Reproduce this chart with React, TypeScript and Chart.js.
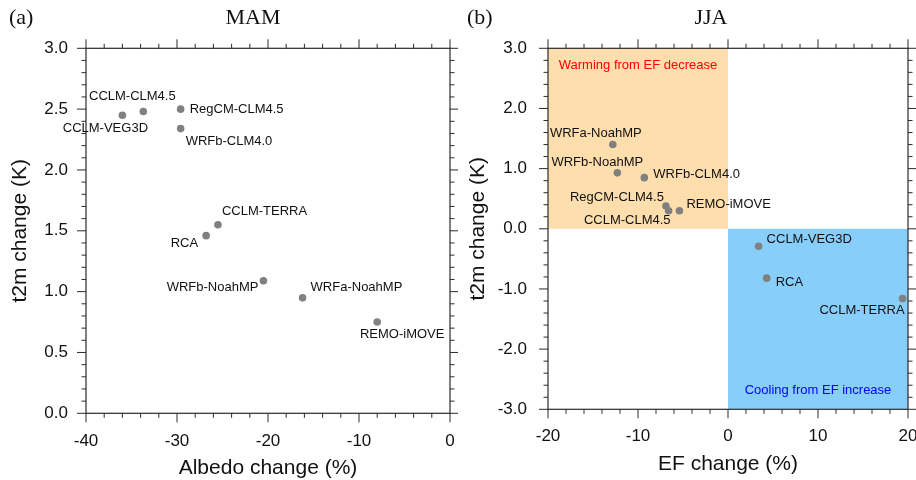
import React, { useEffect, useRef } from "react";
import { Chart, registerables } from "chart.js";

Chart.register(...registerables);

// ---------------- Data ----------------
const mamModels = [
  "CCLM-VEG3D",
  "CCLM-CLM4.5",
  "RegCM-CLM4.5",
  "WRFb-CLM4.0",
  "CCLM-TERRA",
  "RCA",
  "WRFb-NoahMP",
  "WRFa-NoahMP",
  "REMO-iMOVE",
];
const mamAlbedoChange = [-36.0, -33.7, -29.6, -29.6, -25.5, -26.8, -20.5, -16.2, -8.0];
const mamT2mChange = [2.45, 2.48, 2.5, 2.34, 1.55, 1.46, 1.09, 0.95, 0.75];

const jjaModels = [
  "WRFa-NoahMP",
  "WRFb-NoahMP",
  "WRFb-CLM4.0",
  "RegCM-CLM4.5",
  "CCLM-CLM4.5",
  "REMO-iMOVE",
  "CCLM-VEG3D",
  "RCA",
  "CCLM-TERRA",
];
const jjaEFChange = [-12.8, -12.3, -9.3, -6.9, -6.6, -5.4, 3.4, 4.3, 19.4];
const jjaT2mChange = [1.4, 0.93, 0.85, 0.38, 0.3, 0.3, -0.29, -0.82, -1.16];

const mamXTicks = [-40, -30, -20, -10, 0];
const mamYTicks = [0, 0.5, 1.0, 1.5, 2.0, 2.5, 3.0];
const jjaXTicks = [-20, -10, 0, 10, 20];
const jjaYTicks = [-3, -2, -1, 0, 1, 2, 3];

// label placement: [align, dx(px), dy(px)] relative to the point
const mamLabelPlace: [CanvasTextAlign, number, number][] = [
  ["center", -17, 13],
  ["center", -11, -15],
  ["left", 9, 0],
  ["left", 5, 13],
  ["left", 4, -13],
  ["right", -8, 8],
  ["right", -5, 7],
  ["left", 8, -10],
  ["center", 25, 12],
];
const jjaLabelPlace: [CanvasTextAlign, number, number][] = [
  ["center", -17, -11],
  ["center", -20, -10],
  ["left", 9, -3],
  ["right", -2, -9],
  ["right", 2, 10],
  ["left", 7, -6],
  ["left", 8, -7],
  ["left", 9, 4],
  ["right", 2, 12],
];

const SANS = "'Liberation Sans', Arial, Helvetica, sans-serif";
const SERIF = "'Liberation Serif', 'Times New Roman', serif";
const AXIS_COLOR = "#2a2a2a";
const POINT_COLOR = "#808080";

type PanelCfg = {
  letter: string;
  season: string;
  xTitle: string;
  xMin: number;
  xMax: number;
  yMin: number;
  yMax: number;
  xTicks: number[];
  yTicks: number[];
  xMinor: number;
  yMinor: number;
  xMajor: number;
  yMajor: number;
  yDecimals: number;
  models: string[];
  xs: number[];
  ys: number[];
  place: [CanvasTextAlign, number, number][];
  yAxisWidth: number;
  xAxisHeight: number;
  yLabelPad: number;
  xLabelPad: number;
  xTitlePadBottom: number;
  yTitlePad: number;
  regions: boolean;
};

function makePlugin(cfg: PanelCfg) {
  return {
    id: "panelDecor" + cfg.letter,
    beforeDatasetsDraw(chart: any) {
      const { ctx, chartArea } = chart;
      const xs = chart.scales.x;
      const ys = chart.scales.y;
      if (cfg.regions) {
        ctx.save();
        // orange: x in [-20,0], y in [0,3]
        const x0 = xs.getPixelForValue(cfg.xMin);
        const xm = xs.getPixelForValue(0);
        const x1 = xs.getPixelForValue(cfg.xMax);
        const yT = ys.getPixelForValue(cfg.yMax);
        const y0 = ys.getPixelForValue(0);
        const yB = ys.getPixelForValue(cfg.yMin);
        ctx.fillStyle = "rgb(255,222,173)";
        ctx.fillRect(x0, yT, xm - x0, y0 - yT);
        ctx.fillStyle = "rgb(135,206,250)";
        ctx.fillRect(xm, y0, x1 - xm, yB - y0);
        ctx.font = "13px " + SANS;
        ctx.textAlign = "center";
        ctx.textBaseline = "middle";
        ctx.fillStyle = "#ff0000";
        ctx.fillText("Warming from EF decrease", xs.getPixelForValue(-10), yT + 17);
        ctx.fillStyle = "#0000ff";
        ctx.fillText("Cooling from EF increase", xs.getPixelForValue(10), yB - 18.5);
        ctx.restore();
      }
      // frame and ticks
      ctx.save();
      ctx.strokeStyle = AXIS_COLOR;
      ctx.lineWidth = 1.2;
      ctx.strokeRect(chartArea.left, chartArea.top, chartArea.right - chartArea.left, chartArea.bottom - chartArea.top);
      const majLen = 9;
      const minLen = 4.5;
      ctx.lineWidth = 1;
      ctx.beginPath();
      const nx = Math.round((cfg.xMax - cfg.xMin) / cfg.xMinor);
      for (let i = 0; i <= nx; i++) {
        const v = cfg.xMin + i * cfg.xMinor;
        const isMaj = Math.abs(v / cfg.xMajor - Math.round(v / cfg.xMajor)) < 1e-6;
        const len = isMaj ? majLen : minLen;
        const px = xs.getPixelForValue(v);
        ctx.moveTo(px, chartArea.bottom);
        ctx.lineTo(px, chartArea.bottom + len);
        ctx.moveTo(px, chartArea.top);
        ctx.lineTo(px, chartArea.top - len);
      }
      const ny = Math.round((cfg.yMax - cfg.yMin) / cfg.yMinor);
      for (let i = 0; i <= ny; i++) {
        const v = cfg.yMin + i * cfg.yMinor;
        const isMaj = Math.abs(v / cfg.yMajor - Math.round(v / cfg.yMajor)) < 1e-6;
        const len = isMaj ? majLen : minLen;
        const py = ys.getPixelForValue(v);
        ctx.moveTo(chartArea.left, py);
        ctx.lineTo(chartArea.left - len, py);
        ctx.moveTo(chartArea.right, py);
        ctx.lineTo(chartArea.right + len, py);
      }
      ctx.stroke();
      ctx.restore();
    },
    afterDatasetsDraw(chart: any) {
      const { ctx } = chart;
      const meta = chart.getDatasetMeta(0);
      ctx.save();
      ctx.font = "13px " + SANS;
      ctx.fillStyle = "#111";
      ctx.textBaseline = "middle";
      meta.data.forEach((pt: any, i: number) => {
        const [align, dx, dy] = cfg.place[i];
        ctx.textAlign = align;
        ctx.fillText(cfg.models[i], pt.x + dx, pt.y + dy);
      });
      ctx.restore();
    },
    afterDraw(chart: any) {
      const { ctx } = chart;
      ctx.save();
      ctx.fillStyle = "#111";
      ctx.textBaseline = "middle";
      ctx.font = "22px " + SERIF;
      ctx.textAlign = "left";
      ctx.fillText("(" + cfg.letter + ")", 9, 18.5);
      ctx.textAlign = "center";
      ctx.fillText(cfg.season, 253, 18.5);
      ctx.restore();
    },
  };
}

function Panel({ cfg, left }: { cfg: PanelCfg; left: number }) {
  const ref = useRef<HTMLCanvasElement | null>(null);
  useEffect(() => {
    if (!ref.current) return;
    const chart = new Chart(ref.current, {
      type: "scatter",
      data: {
        datasets: [
          {
            data: cfg.xs.map((x, i) => ({ x, y: cfg.ys[i] })),
            backgroundColor: POINT_COLOR,
            borderWidth: 0,
            pointRadius: 3.8,
            pointHoverRadius: 3.8,
          },
        ],
      },
      options: {
        responsive: false,
        animation: false,
        events: [],
        layout: { padding: { top: 48.3, left: 0, right: 8, bottom: 0 } },
        plugins: { legend: { display: false }, tooltip: { enabled: false } },
        scales: {
          x: {
            type: "linear",
            min: cfg.xMin,
            max: cfg.xMax,
            grid: { display: false, drawTicks: false },
            border: { display: false },
            afterBuildTicks: (s: any) => {
              s.ticks = cfg.xTicks.map((v) => ({ value: v }));
            },
            afterFit: (s: any) => {
              s.height = cfg.xAxisHeight;
              s.paddingLeft = 0;
              s.paddingRight = 0;
            },
            ticks: {
              autoSkip: false,
              maxRotation: 0,
              padding: cfg.xLabelPad,
              color: "#111",
              font: { family: SANS, size: 17 },
              callback: (v: any) => String(v),
            },
            title: {
              display: true,
              text: cfg.xTitle,
              color: "#111",
              font: { family: SANS, size: 21 },
              padding: { top: 0, bottom: cfg.xTitlePadBottom },
            },
          },
          y: {
            type: "linear",
            min: cfg.yMin,
            max: cfg.yMax,
            grid: { display: false, drawTicks: false },
            border: { display: false },
            afterBuildTicks: (s: any) => {
              s.ticks = cfg.yTicks.map((v) => ({ value: v }));
            },
            afterFit: (s: any) => {
              s.width = cfg.yAxisWidth;
              s.paddingTop = 0;
              s.paddingBottom = 0;
            },
            ticks: {
              autoSkip: false,
              padding: cfg.yLabelPad,
              color: "#111",
              font: { family: SANS, size: 17 },
              callback: (v: any) => Number(v).toFixed(cfg.yDecimals),
            },
            title: {
              display: true,
              text: "t2m change (K)",
              color: "#111",
              font: { family: SANS, size: 21 },
              padding: { top: cfg.yTitlePad, bottom: 0 },
            },
          },
        },
      },
      plugins: [makePlugin(cfg)],
    } as any);
    return () => chart.destroy();
  }, [cfg]);
  return (
    <canvas
      ref={ref}
      width={458}
      height={480}
      style={{ position: "absolute", left, top: 0, width: 458, height: 480, display: "block" }}
    />
  );
}

const mamCfg: PanelCfg = {
  letter: "a",
  season: "MAM",
  xTitle: "Albedo change (%)",
  xMin: -40,
  xMax: 0,
  yMin: 0,
  yMax: 3,
  xTicks: mamXTicks,
  yTicks: mamYTicks,
  xMinor: 2,
  yMinor: 0.1,
  xMajor: 10,
  yMajor: 0.5,
  yDecimals: 1,
  models: mamModels,
  xs: mamAlbedoChange,
  ys: mamT2mChange,
  place: mamLabelPlace,
  yAxisWidth: 86,
  xAxisHeight: 66.7,
  yLabelPad: 18,
  xLabelPad: 18,
  xTitlePadBottom: -1,
  yTitlePad: 7.5,
  regions: false,
};

const jjaCfg: PanelCfg = {
  letter: "b",
  season: "JJA",
  xTitle: "EF change (%)",
  xMin: -20,
  xMax: 20,
  yMin: -3,
  yMax: 3,
  xTicks: jjaXTicks,
  yTicks: jjaYTicks,
  xMinor: 2,
  yMinor: 0.2,
  xMajor: 10,
  yMajor: 1,
  yDecimals: 1,
  models: jjaModels,
  xs: jjaEFChange,
  ys: jjaT2mChange,
  place: jjaLabelPlace,
  yAxisWidth: 90,
  xAxisHeight: 70.7,
  yLabelPad: 21,
  xLabelPad: 17,
  xTitlePadBottom: 3.4,
  yTitlePad: 8,
  regions: true,
};

export default function App() {
  return (
    <div
      style={{
        position: "absolute",
        left: 0,
        top: 0,
        width: 916,
        height: 480,
        overflow: "hidden",
        background: "#fff",
      }}
    >
      <Panel cfg={mamCfg} left={0} />
      <Panel cfg={jjaCfg} left={458} />
    </div>
  );
}
